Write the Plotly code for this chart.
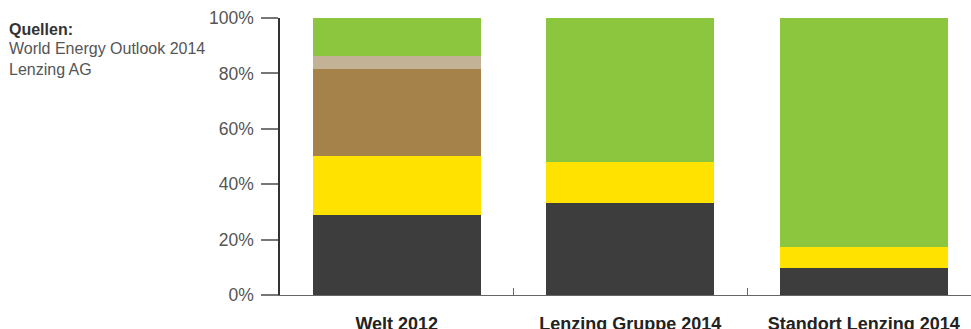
import plotly.graph_objects as go

categories = ["Welt 2012", "Lenzing Gruppe 2014", "Standort Lenzing 2014"]
series_names = ["Kohle", "Gas", "Öl", "Kernkraft", "Erneuerbare"]
dark = [29, 33.3, 9.7]
yellow = [21.3, 14.8, 7.6]
brown = [31.3, 0, 0]
tan = [4.7, 0, 0]
green = [13.7, 51.9, 82.7]
colors = ["#3d3d3d", "#ffe200", "#a6824b", "#c3b296", "#8cc63f"]
y_ticks = [0, 20, 40, 60, 80, 100]
y_tick_labels = ["0%", "20%", "40%", "60%", "80%", "100%"]

fig = go.Figure()
for name, vals, col in zip(series_names, [dark, yellow, brown, tan, green], colors):
    fig.add_trace(go.Bar(x=categories, y=vals, name=name, marker=dict(color=col, line=dict(width=0)), width=0.72))

fig.update_layout(
    barmode="stack",
    width=971, height=329,
    margin=dict(l=280, r=0, t=18, b=34),
    plot_bgcolor="white", paper_bgcolor="white",
    showlegend=False,
    font=dict(family="Liberation Sans, Arial, sans-serif", color="#444"),
)
fig.update_xaxes(
    type="category",
    range=[-0.5, 2.459],
    automargin=False,
    showline=True, linecolor="#666", linewidth=1.2,
    ticks="inside", tickson="boundaries", ticklen=7, tickcolor="#666", tickwidth=1,
    tickfont=dict(size=18, color="#222", weight="bold"),
    ticklabelstandoff=12,
    showgrid=False,
)
fig.update_yaxes(
    range=[0, 100],
    automargin=False,
    tickvals=y_ticks, ticktext=y_tick_labels,
    showline=True, linecolor="#333", linewidth=1.5,
    ticks="outside", ticklen=17, tickcolor="#777", tickwidth=1.5,
    tickfont=dict(size=17.5, color="#555"),
    ticklabelstandoff=4,
    showgrid=False, zeroline=False,
)
fig.add_annotation(xref="paper", yref="paper", x=-280/691, y=1, yanchor="top", xanchor="left",
                   text="<b>Quellen:</b>", showarrow=False, font=dict(size=16, color="#333"),
                   yshift=-1, xshift=7, align="left")
fig.add_annotation(xref="paper", yref="paper", x=-280/691, y=1, yanchor="top", xanchor="left",
                   text="World Energy Outlook 2014<br>Lenzing AG", showarrow=False,
                   font=dict(size=16, color="#555"), yshift=-20, xshift=7, align="left")
fig.write_html("out.html")
